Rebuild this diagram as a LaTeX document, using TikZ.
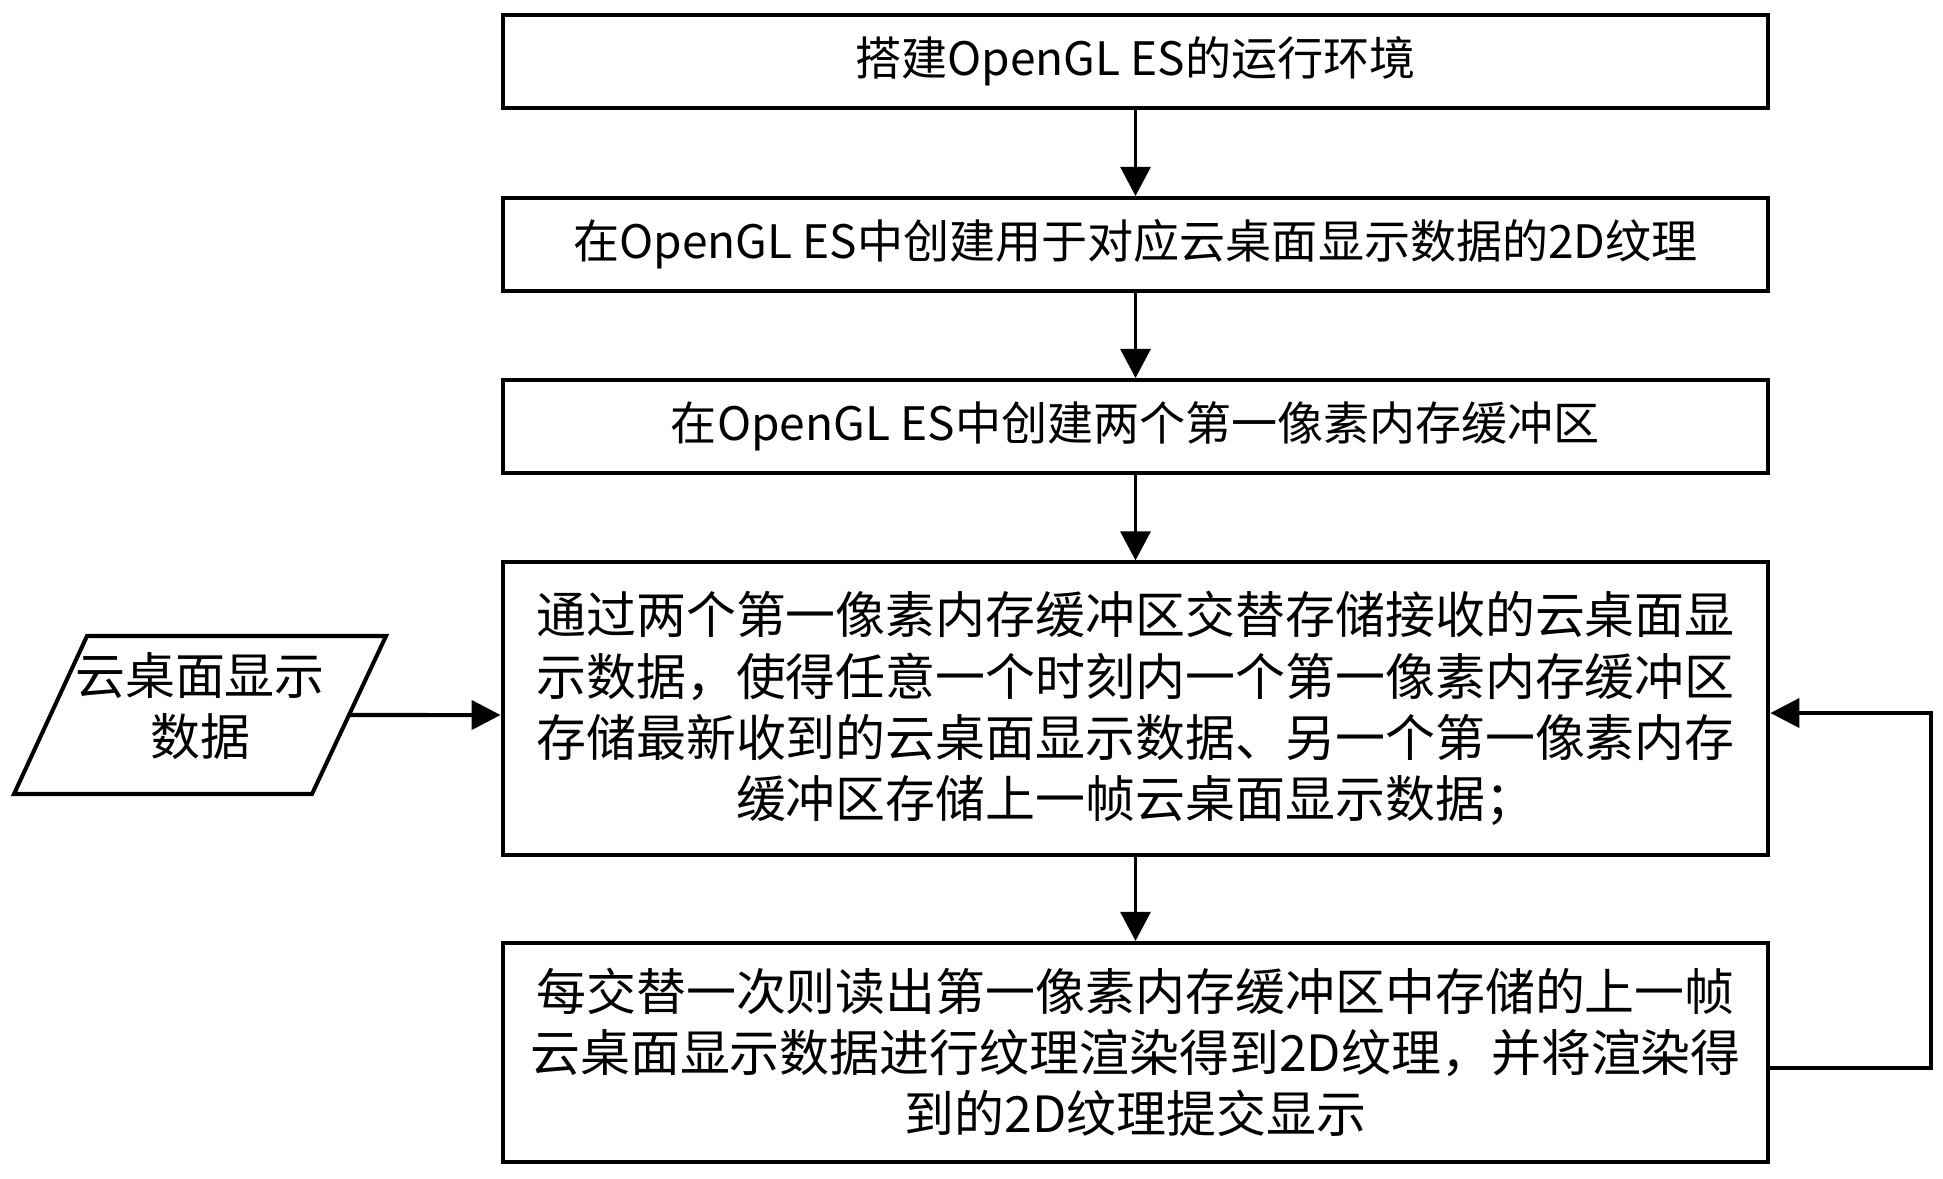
\documentclass[tikz,border=0pt]{standalone}
\usepackage{fontspec}
\setmainfont{Noto Sans CJK SC}
\usetikzlibrary{arrows.meta, positioning, calc}
\tikzset{
    boxS/.style={draw, line width=1.15pt, minimum width=12.65cm, minimum height=0.93cm,
        align=center, inner sep=0pt, font=\fontsize{13.1}{17.4}\selectfont},
    boxL/.style={boxS, font=\fontsize{14.2}{17.4}\selectfont},
    lineA/.style={line width=0.85pt, -{Triangle[length=0.29cm, width=0.3cm]}},
    lineB/.style={line width=1.15pt, -{Triangle[length=0.29cm, width=0.29cm]}}
}
\begin{document}
\begin{tikzpicture}[x=0.01cm, y=-0.01cm]
    \useasboundingbox (0,0) rectangle (1943,1178);
    \node[boxS] (b1) at (1135.5,61.5) {搭建OpenGL ES的运行环境};
    \node[boxS] (b2) at (1135.5,244.5) {在OpenGL ES中创建用于对应云桌面显示数据的2D纹理};
    \node[boxS] (b3) at (1135.5,426.5) {在OpenGL ES中创建两个第一像素内存缓冲区};
    \node[boxL, minimum height=2.92cm] (b4) at (1135.5,708.5)
        {通过两个第一像素内存缓冲区交替存储接收的云桌面显\\
         示数据，使得任意一个时刻内一个第一像素内存缓冲区\\
         存储最新收到的云桌面显示数据、另一个第一像素内存\\
         缓冲区存储上一帧云桌面显示数据；};
    \node[boxL, minimum height=2.19cm] (b5) at (1135.5,1052.5)
        {每交替一次则读出第一像素内存缓冲区中存储的上一帧\\
         云桌面显示数据进行纹理渲染得到2D纹理，并将渲染得\\
         到的2D纹理提交显示};
    % input data
    \node[align=center, font=\fontsize{14.2}{17.4}\selectfont] (data) at (200,706) {云桌面显示\\数据};
    \draw[line width=1.15pt] (87,636) -- (386,636) -- (312,794) -- (14,794) -- cycle;
    \coordinate (dataout) at (349,715);
    \draw[lineA] (b1) -- (b2);
    \draw[lineA] (b2) -- (b3);
    \draw[lineA] (b3) -- (b4);
    \draw[lineA] (b4) -- (b5);
    \draw[lineB] (dataout) -- ([yshift=-0.065cm]b4.west);
    \draw[lineB] ([yshift=-0.155cm]b5.east) -- ++(161,0) |- ([yshift=-0.045cm]b4.east);
\end{tikzpicture}
\end{document}
